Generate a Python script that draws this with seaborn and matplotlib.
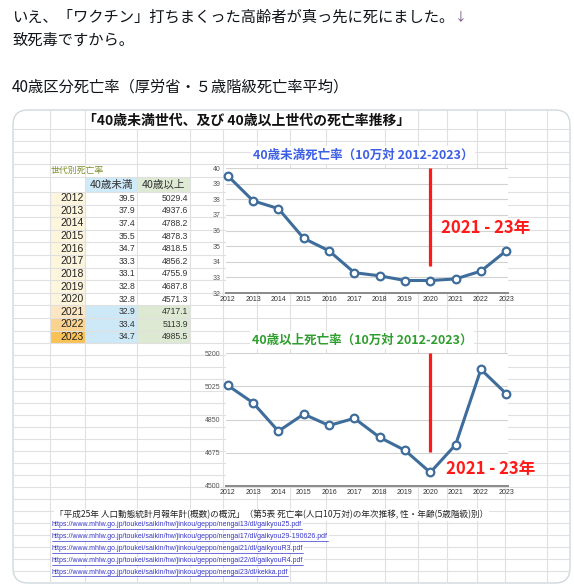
import matplotlib
matplotlib.use("Agg")
import numpy as np
import pandas as pd
import matplotlib.pyplot as plt
import seaborn as sns
from matplotlib.patches import FancyBboxPatch, Rectangle

# ---------------- data ----------------
years = [2012, 2013, 2014, 2015, 2016, 2017, 2018, 2019, 2020, 2021, 2022, 2023]
under40 = [39.5, 37.9, 37.4, 35.5, 34.7, 33.3, 33.1, 32.8, 32.8, 32.9, 33.4, 34.7]
over40 = [5029.4, 4937.6, 4788.2, 4878.3, 4818.5, 4856.2, 4755.9, 4687.8, 4571.3, 4717.1, 5113.9, 4985.5]
under40_ticks = [32, 33, 34, 35, 36, 37, 38, 39, 40]
over40_ticks = [4500, 4675, 4850, 5025, 5200]

tweet_line1 = "いえ、「ワクチン」打ちまくった高齢者が真っ先に死にました。"
tweet_arrow = "↓"
tweet_line2 = "致死毒ですから。"
tweet_line3 = "40歳区分死亡率（厚労省・５歳階級死亡率平均）"
sheet_title = "「40歳未満世代、及び 40歳以上世代の死亡率推移」"
table_caption = "世代別死亡率"
table_headers = ["40歳未満", "40歳以上"]
chart1_title = "40歳未満死亡率（10万対 2012-2023）"
chart2_title = "40歳以上死亡率（10万対 2012-2023）"
period_label = "2021 - 23年"
source_text = "「平成25年 人口動態統計月報年計(概数)の概況」（第5表 死亡率(人口10万対)の年次推移, 性・年齢(5歳階級)別）"
urls = [
    "https://www.mhlw.go.jp/toukei/saikin/hw/jinkou/geppo/nengai13/dl/gaikyou25.pdf",
    "https://www.mhlw.go.jp/toukei/saikin/hw/jinkou/geppo/nengai17/dl/gaikyou29-190626.pdf",
    "https://www.mhlw.go.jp/toukei/saikin/hw/jinkou/geppo/nengai21/dl/gaikyouR3.pdf",
    "https://www.mhlw.go.jp/toukei/saikin/hw/jinkou/geppo/nengai22/dl/gaikyouR4.pdf",
    "https://www.mhlw.go.jp/toukei/saikin/hw/jinkou/geppo/nengai23/dl/kekka.pdf",
]

# ---------------- style ----------------
sns.set_theme(style="white")
plt.rcParams["font.family"] = ["Noto Sans CJK JP", "DejaVu Sans"]
LINE = "#3e6d9c"
RED = "#ff1a1a"
GRIDC = "#e0e0e0"
SANS = ["Liberation Sans", "DejaVu Sans"]

W, H = 574, 587
fig = plt.figure(figsize=(W / 100, H / 100), dpi=100)
fig.patch.set_facecolor("white")
bg = fig.add_axes([0, 0, 1, 1])
bg.set_xlim(0, W)
bg.set_ylim(H, 0)
bg.axis("off")
bg.set_zorder(0)

# tweet text
TW = "#0f1419"
t1 = bg.text(12, 17, tweet_line1, fontsize=11, color=TW, va="center", ha="left")
bg.text(12, 40, tweet_line2, fontsize=11, color=TW, va="center", ha="left")
bg.text(12, 87, tweet_line3, fontsize=11, color=TW, va="center", ha="left")

# image frame
frame = FancyBboxPatch((13, 110), 557, 473, boxstyle="round,pad=0,rounding_size=15",
                       fc="white", ec="#cfd9de", lw=1.0, zorder=1)
bg.add_patch(frame)

# spreadsheet grid
col_x = [50, 85, 137, 190, 223, 257, 290, 326, 385, 418, 447, 477, 505, 547]
row_y = [129, 140.5, 152, 163.5, 177, 192] + [192 + 12.6 * k for k in range(1, 13)]
y = row_y[-1] + 12.0
while y < 583:
    row_y.append(y)
    y += 12.0
vl = bg.vlines(col_x, 110, 583, colors=GRIDC, lw=0.8, zorder=1.1)
hl = bg.hlines(row_y, 13, 570, colors=GRIDC, lw=0.8, zorder=1.1)
vl.set_clip_path(frame)
hl.set_clip_path(frame)

# title row (overflowing text hides grid)
bg.add_patch(Rectangle((86, 110.5), 331, 18, fc="white", ec="none", zorder=1.2))
bg.text(247, 121, sheet_title, fontsize=10, fontweight="bold", color="#111111",
        ha="center", va="center", zorder=3)

# table
bg.text(51, 170, table_caption, fontsize=6.4, color="#7d8f2c", ha="left", va="center", zorder=3)
bg.add_patch(Rectangle((85, 177), 52, 15, fc="#cfeaf8", ec="none", zorder=1.05))
bg.add_patch(Rectangle((137, 177), 53, 15, fc="#dfead5", ec="none", zorder=1.05))
bg.text(111, 185, table_headers[0], fontsize=7.6, color="#333333", ha="center", va="center", zorder=3)
bg.text(163.5, 185, table_headers[1], fontsize=7.6, color="#333333", ha="center", va="center", zorder=3)
year_colors = ["#fdf5dc"] * 9 + ["#fde6c2", "#fbd391", "#f8c256"]
for i, (yr, a, b) in enumerate(zip(years, under40, over40)):
    top = 192 + 12.6 * i
    cy = top + 6.3
    bg.add_patch(Rectangle((50, top), 35, 12.6, fc=year_colors[i], ec="none", zorder=1.05))
    if yr >= 2021:
        bg.add_patch(Rectangle((85, top), 52, 12.6, fc="#cde8f7", ec="none", zorder=1.05))
        bg.add_patch(Rectangle((137, top), 53, 12.6, fc="#dde9d3", ec="none", zorder=1.05))
    bg.text(84, cy, str(yr), fontsize=7.5, color="#222222", ha="right", va="center",
            family=SANS, zorder=3)
    bg.text(135.5, cy, f"{a:.1f}", fontsize=6.2, color="#333333", ha="right", va="center",
            family=SANS, zorder=3)
    bg.text(188, cy, f"{b:.1f}", fontsize=6.2, color="#333333", ha="right", va="center",
            family=SANS, zorder=3)

# chart titles
bg.text(363, 155, chart1_title, fontsize=9, fontweight="bold", color="#3d5ee6",
        ha="center", va="center", zorder=3,
        bbox=dict(fc="white", ec="none", pad=1.5))
bg.text(362, 340, chart2_title, fontsize=9, fontweight="bold", color="#2f9e2f",
        ha="center", va="center", zorder=3,
        bbox=dict(fc="white", ec="none", pad=1.5))

# source text and urls
bg.text(55, 515, source_text, fontsize=6.2, color="#222222", ha="left", va="center", zorder=3,
        bbox=dict(fc="white", ec="none", pad=0.8))
url_y = [525, 537, 549, 561, 572]
url_texts = []
for u, uy in zip(urls, url_y):
    url_texts.append(bg.text(52, uy, u, fontsize=5.0, color="#3535c8", ha="left", va="center",
                             family=SANS, zorder=3,
                             bbox=dict(fc="white", ec="none", pad=0.5)))


def pix_axes(l, t, r, b):
    return fig.add_axes([l / W, 1 - b / H, (r - l) / W, (b - t) / H])


def style_chart(ax, ticks, lo, hi):
    ax.set_zorder(2)
    ax.set_facecolor("white")
    ax.set_xlim(2011.93, 2023.07)
    ax.set_ylim(lo, hi)
    ax.set_yticks(ticks)
    ax.set_xticks(years)
    ax.set_xticklabels([str(y) for y in years])
    ax.yaxis.grid(True, color="#d2d2d2", lw=0.8)
    ax.xaxis.grid(False)
    for s in ["left", "right", "top"]:
        ax.spines[s].set_visible(False)
    ax.spines["bottom"].set_color("#8a8a8a")
    ax.spines["bottom"].set_linewidth(1.4)
    ax.tick_params(axis="both", length=0)
    ax.tick_params(axis="y", labelsize=5.0, labelcolor="#555555", pad=4)
    ax.tick_params(axis="x", labelsize=5.0, labelcolor="#333333", pad=2.5)
    for lab in ax.get_xticklabels() + ax.get_yticklabels():
        lab.set_family(SANS)
    ax.set_xlabel("")
    ax.set_ylabel("")
    for ln in ax.lines:
        ln.set_clip_on(False)
        ln.set_markerfacecolor("white")
        ln.set_markeredgecolor(LINE)
        ln.set_markeredgewidth(1.6)
        ln.set_zorder(4)


# chart 1
ax1 = pix_axes(226, 168, 508, 293)
df1 = pd.DataFrame({"year": years, "rate": under40})
sns.lineplot(data=df1, x="year", y="rate", ax=ax1, color=LINE, lw=2.2, marker="o",
             markersize=5.5, mfc="white", mec=LINE, mew=1.6)
style_chart(ax1, under40_ticks, 32, 40)
ax1.vlines(2020, 33.7, 40, color=RED, lw=2.3, zorder=3)
ax1.text(2020.43, 36.15, period_label, color=RED, fontsize=12, fontweight="bold",
         ha="left", va="center", clip_on=False, zorder=5)

# chart 2
ax2 = pix_axes(226, 353, 508, 486)
df2 = pd.DataFrame({"year": years, "rate": over40})
sns.lineplot(data=df2, x="year", y="rate", ax=ax2, color=LINE, lw=2.2, marker="o",
             markersize=5.5, mfc="white", mec=LINE, mew=1.6)
style_chart(ax2, over40_ticks, 4500, 5200)
ax2.vlines(2020, 4677, 5200, color=RED, lw=2.3, zorder=3)
ax2.text(2020.63, 4590, period_label, color=RED, fontsize=12, fontweight="bold",
         ha="left", va="center", clip_on=False, zorder=5)

# arrow after first line, underlines for urls
fig.canvas.draw()
r = fig.canvas.get_renderer()
ext = t1.get_window_extent(r)
bg.text(ext.x1 + 1, 17, tweet_arrow, fontsize=8.5, color="#6b4a7e", va="center", ha="left")
for t in url_texts:
    e = t.get_window_extent(r)
    yy = H - e.y0 + 0.2
    bg.plot([e.x0, e.x1], [yy, yy], color="#3535c8", lw=0.5, zorder=3.5)

fig.savefig("out.png", dpi=100)
